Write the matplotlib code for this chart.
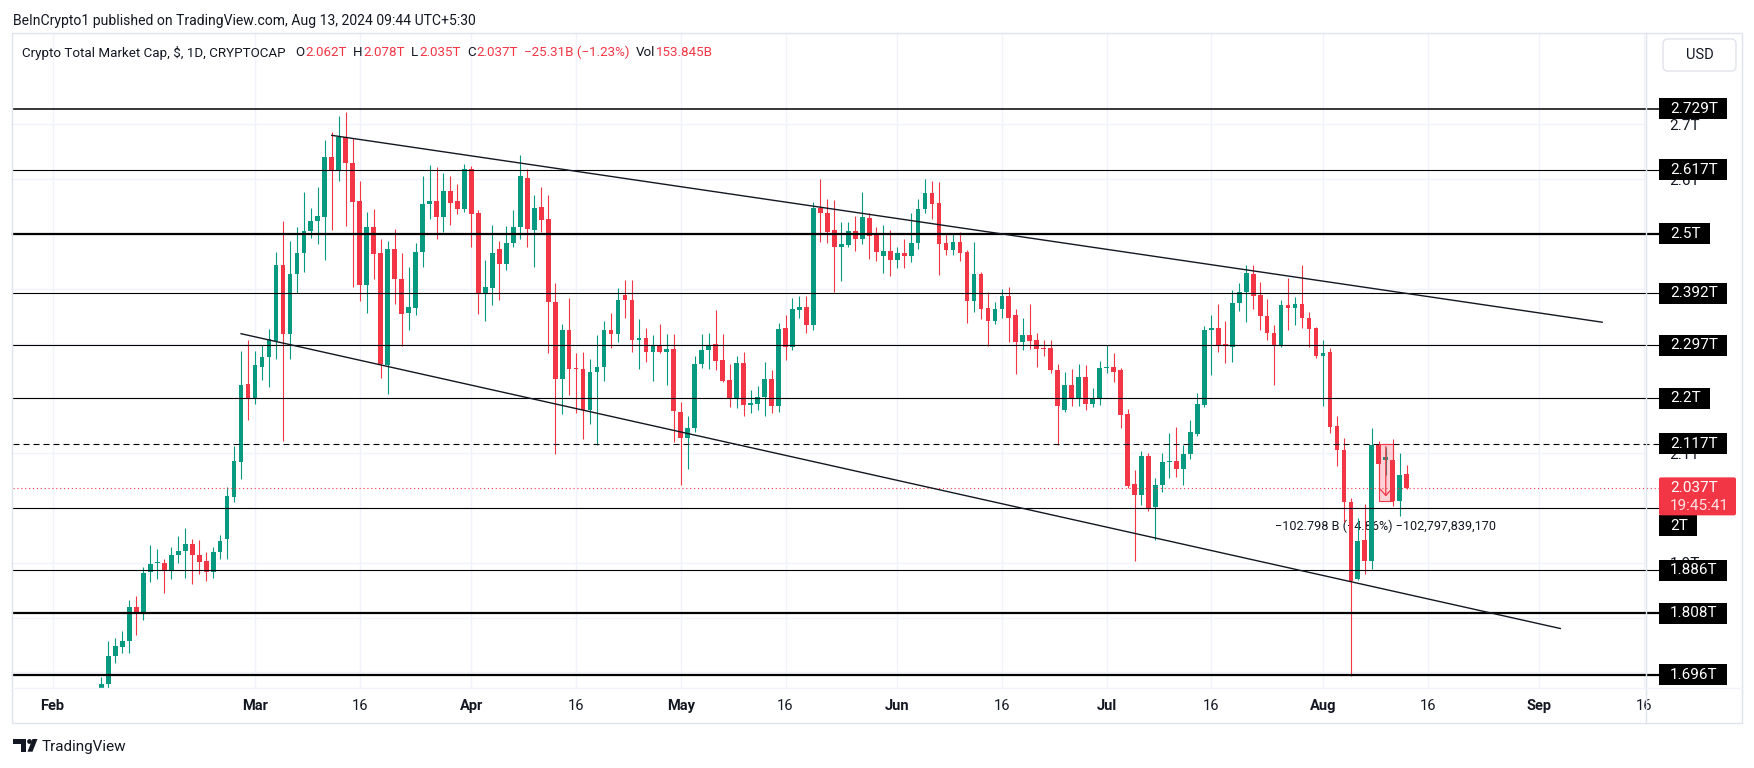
import matplotlib
matplotlib.use("Agg")
import matplotlib.pyplot as plt
import matplotlib.dates as mdates
import matplotlib.transforms as mtransforms
from matplotlib.patches import Rectangle, FancyBboxPatch, Polygon, Circle
from matplotlib.ticker import FuncFormatter
import numpy as np
import pandas as pd

plt.rcParams['font.family'] = ['Roboto', 'DejaVu Sans']

GREEN = '#089981'
RED = '#F23645'
INK = '#131722'

# daily candles (open, high, low, close), trillions USD
feb = [(1.668, 1.692, 1.655, 1.678), (1.678, 1.758, 1.668, 1.729), (1.729, 1.763, 1.717, 1.748),
       (1.746, 1.775, 1.736, 1.758), (1.757, 1.832, 1.736, 1.820), (1.819, 1.839, 1.768, 1.808),
       (1.808, 1.892, 1.796, 1.882), (1.884, 1.933, 1.865, 1.897), (1.900, 1.925, 1.871, 1.901),
       (1.900, 1.907, 1.844, 1.885), (1.885, 1.928, 1.870, 1.914), (1.914, 1.948, 1.900, 1.921),
       (1.921, 1.964, 1.872, 1.935), (1.935, 1.944, 1.861, 1.914), (1.914, 1.942, 1.880, 1.902),
       (1.904, 1.920, 1.866, 1.884), (1.884, 1.929, 1.873, 1.920), (1.920, 1.951, 1.906, 1.940),
       (1.943, 2.039, 1.906, 2.021), (2.020, 2.113, 2.010, 2.086), (2.083, 2.287, 2.053, 2.225),
       (2.227, 2.306, 2.161, 2.198)]
mar = [(2.198, 2.287, 2.189, 2.260), (2.258, 2.297, 2.234, 2.275), (2.275, 2.326, 2.221, 2.308),
       (2.304, 2.468, 2.271, 2.443), (2.443, 2.523, 2.122, 2.317), (2.317, 2.488, 2.271, 2.427),
       (2.427, 2.513, 2.392, 2.466), (2.465, 2.576, 2.431, 2.505), (2.505, 2.548, 2.493, 2.523),
       (2.523, 2.585, 2.482, 2.532), (2.531, 2.672, 2.452, 2.641), (2.641, 2.686, 2.507, 2.617),
       (2.617, 2.715, 2.596, 2.677), (2.677, 2.722, 2.514, 2.629), (2.629, 2.675, 2.404, 2.559),
       (2.560, 2.596, 2.378, 2.406), (2.406, 2.540, 2.356, 2.512), (2.513, 2.545, 2.418, 2.464),
       (2.466, 2.491, 2.237, 2.262), (2.260, 2.488, 2.208, 2.473), (2.473, 2.510, 2.373, 2.417),
       (2.417, 2.466, 2.296, 2.354), (2.356, 2.440, 2.325, 2.366), (2.365, 2.484, 2.352, 2.468),
       (2.468, 2.605, 2.440, 2.555), (2.555, 2.626, 2.528, 2.561), (2.561, 2.623, 2.490, 2.531),
       (2.531, 2.612, 2.504, 2.578), (2.578, 2.605, 2.516, 2.557), (2.560, 2.591, 2.537, 2.545),
       (2.545, 2.627, 2.541, 2.618)]
apr = [(2.618, 2.624, 2.477, 2.537), (2.538, 2.543, 2.354, 2.390), (2.390, 2.452, 2.342, 2.403),
       (2.402, 2.516, 2.370, 2.466), (2.473, 2.488, 2.379, 2.445), (2.445, 2.514, 2.435, 2.484),
       (2.484, 2.543, 2.477, 2.513), (2.512, 2.644, 2.490, 2.605), (2.603, 2.619, 2.477, 2.509),
       (2.507, 2.571, 2.440, 2.547), (2.550, 2.586, 2.504, 2.526), (2.527, 2.572, 2.282, 2.376),
       (2.376, 2.411, 2.098, 2.236), (2.236, 2.335, 2.172, 2.324), (2.324, 2.383, 2.207, 2.253),
       (2.255, 2.282, 2.174, 2.254), (2.253, 2.284, 2.126, 2.179), (2.179, 2.271, 2.153, 2.249),
       (2.248, 2.315, 2.115, 2.258), (2.258, 2.341, 2.232, 2.324), (2.324, 2.355, 2.292, 2.317),
       (2.317, 2.401, 2.303, 2.380), (2.388, 2.416, 2.347, 2.379), (2.379, 2.416, 2.284, 2.306),
       (2.306, 2.344, 2.253, 2.311), (2.311, 2.328, 2.267, 2.284), (2.284, 2.315, 2.232, 2.295),
       (2.295, 2.335, 2.282, 2.284), (2.284, 2.317, 2.225, 2.291), (2.291, 2.318, 2.120, 2.177)]
may = [(2.175, 2.194, 2.042, 2.128), (2.127, 2.168, 2.071, 2.146), (2.146, 2.278, 2.138, 2.262),
       (2.262, 2.318, 2.255, 2.288), (2.288, 2.320, 2.253, 2.296), (2.299, 2.361, 2.251, 2.269),
       (2.270, 2.317, 2.230, 2.232), (2.233, 2.263, 2.184, 2.200), (2.200, 2.278, 2.182, 2.264),
       (2.264, 2.284, 2.168, 2.188), (2.188, 2.216, 2.174, 2.191), (2.190, 2.223, 2.179, 2.203),
       (2.203, 2.267, 2.167, 2.236), (2.236, 2.251, 2.174, 2.186), (2.186, 2.337, 2.175, 2.326),
       (2.328, 2.352, 2.270, 2.294), (2.294, 2.383, 2.289, 2.363), (2.362, 2.387, 2.347, 2.366),
       (2.366, 2.387, 2.319, 2.333), (2.333, 2.559, 2.324, 2.548), (2.548, 2.600, 2.486, 2.538),
       (2.539, 2.564, 2.484, 2.504), (2.507, 2.562, 2.395, 2.476), (2.476, 2.521, 2.414, 2.482),
       (2.479, 2.521, 2.476, 2.505), (2.505, 2.532, 2.469, 2.491), (2.491, 2.576, 2.482, 2.531),
       (2.530, 2.538, 2.454, 2.497), (2.502, 2.512, 2.450, 2.468), (2.459, 2.516, 2.428, 2.469),
       (2.469, 2.507, 2.423, 2.452)]
jun = [(2.452, 2.477, 2.438, 2.466), (2.466, 2.491, 2.438, 2.459), (2.459, 2.538, 2.449, 2.484),
       (2.484, 2.564, 2.473, 2.546), (2.546, 2.600, 2.539, 2.574), (2.574, 2.596, 2.528, 2.555),
       (2.557, 2.594, 2.425, 2.482), (2.483, 2.500, 2.461, 2.471), (2.471, 2.500, 2.461, 2.486),
       (2.486, 2.504, 2.450, 2.466), (2.468, 2.471, 2.337, 2.378), (2.378, 2.486, 2.358, 2.427),
       (2.427, 2.431, 2.344, 2.363), (2.365, 2.394, 2.296, 2.342), (2.342, 2.376, 2.335, 2.363),
       (2.363, 2.399, 2.347, 2.387), (2.387, 2.404, 2.303, 2.346), (2.352, 2.363, 2.244, 2.303),
       (2.303, 2.347, 2.289, 2.315), (2.315, 2.372, 2.291, 2.304), (2.306, 2.319, 2.258, 2.291),
       (2.292, 2.306, 2.277, 2.290), (2.292, 2.306, 2.246, 2.251), (2.251, 2.263, 2.115, 2.186),
       (2.179, 2.249, 2.175, 2.225), (2.225, 2.253, 2.186, 2.198), (2.198, 2.262, 2.186, 2.239),
       (2.239, 2.260, 2.179, 2.189), (2.189, 2.218, 2.184, 2.198), (2.198, 2.269, 2.188, 2.255)]
jul = [(2.256, 2.297, 2.246, 2.257), (2.257, 2.282, 2.230, 2.248), (2.251, 2.255, 2.146, 2.170),
       (2.172, 2.181, 2.036, 2.040), (2.043, 2.069, 1.904, 2.024), (2.024, 2.104, 2.005, 2.095),
       (2.095, 2.100, 1.995, 1.999), (2.001, 2.054, 1.942, 2.042), (2.042, 2.100, 2.029, 2.083),
       (2.083, 2.136, 2.054, 2.086), (2.086, 2.148, 2.056, 2.071), (2.071, 2.115, 2.042, 2.098),
       (2.098, 2.161, 2.090, 2.138), (2.135, 2.210, 2.131, 2.189), (2.188, 2.332, 2.184, 2.325),
       (2.325, 2.352, 2.242, 2.328), (2.328, 2.373, 2.285, 2.296), (2.299, 2.342, 2.264, 2.296),
       (2.294, 2.397, 2.267, 2.374), (2.374, 2.411, 2.359, 2.394), (2.394, 2.443, 2.340, 2.428),
       (2.427, 2.443, 2.363, 2.387), (2.388, 2.413, 2.324, 2.351), (2.351, 2.381, 2.306, 2.319),
       (2.319, 2.333, 2.225, 2.296), (2.296, 2.380, 2.294, 2.370), (2.370, 2.420, 2.325, 2.365),
       (2.365, 2.385, 2.333, 2.373), (2.373, 2.443, 2.328, 2.346), (2.347, 2.358, 2.294, 2.326),
       (2.328, 2.330, 2.273, 2.277)]
aug = [(2.278, 2.306, 2.186, 2.282), (2.284, 2.292, 2.136, 2.148), (2.149, 2.168, 2.076, 2.106),
       (2.106, 2.127, 1.975, 2.010), (2.010, 2.019, 1.693, 1.866), (1.870, 1.981, 1.868, 1.939),
       (1.942, 2.008, 1.880, 1.904), (1.904, 2.146, 1.889, 2.115), (2.115, 2.122, 2.040, 2.081),
       (2.088, 2.111, 2.060, 2.093), (2.088, 2.126, 2.003, 2.012), (2.012, 2.100, 1.985, 2.060),
       (2.062, 2.078, 2.035, 2.037)]

first_day = '2024-02-08'

# horizontal levels drawn on the chart
level_prices = [2.729, 2.617, 2.5, 2.392, 2.297, 2.2, 2.117, 2.0, 1.886, 1.808, 1.696]
level_text = ['2.729T', '2.617T', '2.5T', '2.392T', '2.297T', '2.2T', '2.117T', '2T',
              '1.886T', '1.808T', '1.696T']
level_width = [1.1, 0.8, 1.6, 0.8, 0.8, 0.8, 0.8, 0.8, 0.8, 1.6, 1.6]
level_dashed = [False] * 6 + [True] + [False] * 4

# channel trend lines
upper_dates = ['2024-03-12', '2024-09-10']
upper_prices = [2.680, 2.339]
lower_dates = ['2024-02-28', '2024-09-04']
lower_prices = [2.318, 1.780]

last_price = 2.037
countdown = '19:45:41'

# price range measurement
range_dates = ['2024-08-09', '2024-08-11']
range_prices = [2.117, 2.013]
range_text = '\u2212102.798 B (\u22124.86%) \u2212102,797,839,170'

tick_dates = ['2024-02-01', '2024-03-01', '2024-03-16', '2024-04-01', '2024-04-16',
              '2024-05-01', '2024-05-16', '2024-06-01', '2024-06-16', '2024-07-01',
              '2024-07-16', '2024-08-01', '2024-08-16', '2024-09-01', '2024-09-16']
tick_text = ['Feb', 'Mar', '16', 'Apr', '16', 'May', '16', 'Jun', '16', 'Jul', '16',
             'Aug', '16', 'Sep', '16']
price_grid = [1.7, 1.8, 1.9, 2.0, 2.1, 2.2, 2.3, 2.4, 2.5, 2.6, 2.7]
# scale labels the level tags leave (partly) visible
price_shown = [1.9, 2.1, 2.6, 2.7]

ohlc = np.array(feb + mar + apr + may + jun + jul + aug)
dates = pd.date_range(first_day, periods=len(ohlc), freq='D')
assert dates[-1] == pd.Timestamp('2024-08-13'), dates[-1]

W, H = 1754, 768
fig = plt.figure(figsize=(W / 100, H / 100), dpi=100)
fig.patch.set_facecolor('white')

L, R, T, B = 11, 1646, 33, 688
ax = fig.add_axes([L / W, 1 - B / H, (R - L) / W, (B - T) / H])
ax.set_facecolor('white')

t0 = mdates.date2num(pd.Timestamp('2024-02-01'))
ax.set_xlim(t0 - 5.96, t0 + 228.28)
ax.set_ylim(1.6714, 2.8668)

for s in ax.spines.values():
    s.set_visible(False)

ax.set_xticks(mdates.date2num(pd.to_datetime(tick_dates)))
ax.set_xticklabels(tick_text)
for lab, txt in zip(ax.get_xticklabels(), tick_text):
    if not txt.isdigit():
        lab.set_fontweight('bold')
ax.yaxis.tick_right()
ax.set_yticks(price_grid)
ax.yaxis.set_major_formatter(FuncFormatter(
    lambda v, p: ('%gT' % round(v, 1)) if any(abs(v - s) < 1e-6 for s in price_shown) else ''))
ax.tick_params(axis='y', length=0, pad=17, labelsize=11, labelcolor=INK)
ax.tick_params(axis='x', length=0, pad=8, labelsize=10.5, labelcolor=INK)
ax.grid(True, color='#F0F3FA', lw=1, zorder=0)
ax.set_axisbelow(True)

# candles
x = mdates.date2num(dates)
o, h, l, c = ohlc.T
cols = np.where(c >= o, GREEN, RED)
ax.vlines(x, l, h, colors=cols, lw=0.8, zorder=3)
ax.bar(x, np.maximum(np.abs(c - o), 0.0015), bottom=np.minimum(o, c), width=0.68,
       color=cols, linewidth=0, zorder=3)

# levels (run past the plot into the price scale)
trans = mtransforms.blended_transform_factory(ax.transAxes, ax.transData)
x_tag = (1659 - L) / (R - L)
for p, lw, dashed in zip(level_prices, level_width, level_dashed):
    ax.plot([0.0015, x_tag], [p, p], transform=trans, color='black', lw=lw,
            ls=(0, (5.4, 3.6)) if dashed else '-', clip_on=False, zorder=4)
ax.plot([0.0015, x_tag], [last_price, last_price], transform=trans, color=RED, lw=0.8,
        ls=(0, (1, 2.5)), clip_on=False, zorder=4)

# trend lines
ax.plot(mdates.date2num(pd.to_datetime(upper_dates)), upper_prices, color=INK, lw=1, zorder=4)
ax.plot(mdates.date2num(pd.to_datetime(lower_dates)), lower_prices, color=INK, lw=1, zorder=4)

# price range tool
rx = mdates.date2num(pd.to_datetime(range_dates))
ax.add_patch(Rectangle((rx[0], range_prices[1]), rx[1] - rx[0], range_prices[0] - range_prices[1],
                       fc=(242 / 255, 54 / 255, 69 / 255, 0.22), ec=RED, lw=0.8, zorder=4.5))
xm = rx.mean()
ax.annotate('', xy=(xm, range_prices[1] + 0.003), xytext=(xm, range_prices[0]),
            arrowprops=dict(arrowstyle='->,head_length=0.5,head_width=0.45', color=RED, lw=0.9),
            zorder=4.6)
ax.text(xm, 1.967, range_text, ha='center', va='center', fontsize=9.1, color=INK, zorder=2.5)

# frame of the chart panel
ident = mtransforms.IdentityTransform()
fig.add_artist(Rectangle((L + 1, H - 723), 1742 - L - 1, 723 - T, transform=ident, fill=False,
                         ec='#E0E3EB', lw=1, zorder=1))
fig.add_artist(plt.Line2D([R, R], [H - 723, H - T], transform=ident, color='#E0E3EB', lw=1, zorder=1))
fig.add_artist(plt.Line2D([L, 1742], [H - B, H - B], transform=ident, color='#F0F3FA', lw=1, zorder=1))

fig.canvas.draw()
rend = fig.canvas.get_renderer()


def tag(yd, label, face, height=21):
    t = fig.text(1670 / W, yd / H, label, color='white', fontsize=11, va='center',
                 ha='left', zorder=6)
    w = t.get_window_extent(rend).width
    fig.add_artist(Rectangle((1659, yd - height / 2), w + 20, height, transform=ident,
                             fc=face, ec='none', zorder=5))


x_ref = ax.get_xlim()[0]
for p, s in zip(level_prices, level_text):
    yd = ax.transData.transform((x_ref, p))[1]
    if s == '2T':
        yd -= 18  # pushed below the last-price tag
    tag(yd, s, 'black')

# last price tag
yd = ax.transData.transform((x_ref, last_price))[1]
t1 = fig.text(1670 / W, yd / H, '%.3fT' % last_price, color='white', fontsize=11,
              va='center', ha='left', zorder=6)
t2 = fig.text(1670 / W, (yd - 18) / H, countdown, color='#FFE4E6', fontsize=11,
              va='center', ha='left', zorder=6)
w = max(t1.get_window_extent(rend).width, t2.get_window_extent(rend).width)
fig.add_artist(FancyBboxPatch((1659, yd - 27.7), w + 18, 38, transform=ident,
                              boxstyle='round,pad=0,rounding_size=2', fc=RED, ec='none', zorder=5))

# USD button
fig.add_artist(FancyBboxPatch((1663, H - 71), 73, 32, transform=ident,
                              boxstyle='round,pad=0,rounding_size=5', fc='white', ec='#E0E3EB',
                              lw=1, zorder=5))
fig.text(1699.5 / W, 1 - 55 / H, 'USD', ha='center', va='center', fontsize=10.5, color=INK, zorder=6)


def run_text(xp, yp, parts, fs):
    for s, col, gap in parts:
        t = fig.text(xp / W, 1 - yp / H, s, color=col, fontsize=fs, va='center', ha='left')
        xp += t.get_window_extent(rend).width + gap


run_text(13, 21, [('BeInCrypto1 published on TradingView.com, Aug 13, 2024 09:44 UTC+5:30', INK, 0)], 10.1)
legend = [('Crypto Total Market Cap, $, 1D, CRYPTOCAP', INK, 10),
          ('O', INK, 1), ('2.062T', RED, 6), ('H', INK, 1), ('2.078T', RED, 6),
          ('L', INK, 1), ('2.035T', RED, 6), ('C', INK, 1), ('2.037T', RED, 6),
          ('\u221225.31B (\u22121.23%)', RED, 6), ('Vol', INK, 1), ('153.845B', RED, 0)]
run_text(22, 52.6, legend, 9.6)

# TradingView footer mark
logo = '#131722'
fig.add_artist(Polygon([(13.3, H - 739), (26, H - 739), (26, H - 751.7), (20.5, H - 751.7),
                        (20.5, H - 744), (13.3, H - 744)], closed=True, transform=ident,
                       fc=logo, ec='none'))
fig.add_artist(Circle((29.5, H - 741.5), 2.4, transform=ident, fc=logo, ec='none'))
fig.add_artist(Polygon([(32.5, H - 739), (37.5, H - 739), (32.5, H - 751.7), (27.5, H - 751.7)],
                       closed=True, transform=ident, fc=logo, ec='none'))
fig.text(41.5 / W, 1 - 746.5 / H, 'TradingView', ha='left', va='center', fontsize=11, color=logo)

fig.savefig('out.png', dpi=100, facecolor='white')
